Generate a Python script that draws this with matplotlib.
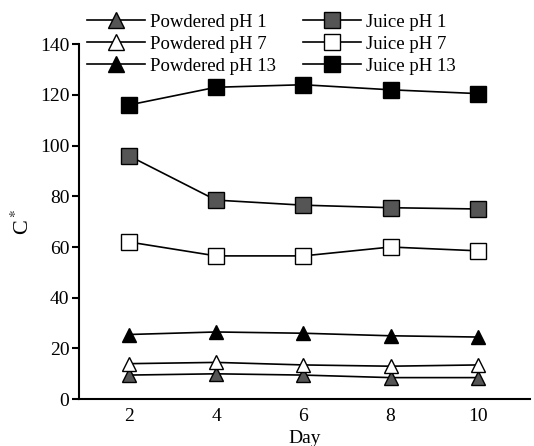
import matplotlib
matplotlib.use('Agg')
import matplotlib.pyplot as plt

plt.rcParams['font.family'] = ['Liberation Serif', 'DejaVu Serif']
plt.rcParams['mathtext.fontset'] = 'stix'

days = [2, 4, 6, 8, 10]
powdered_ph1 = [9.5, 10, 9.5, 8.5, 8.5]
powdered_ph7 = [14, 14.5, 13.5, 13, 13.5]
powdered_ph13 = [25.5, 26.5, 26, 25, 24.5]
juice_ph1 = [96, 78.5, 76.5, 75.5, 75]
juice_ph7 = [62, 56.5, 56.5, 60, 58.5]
juice_ph13 = [116, 123, 124, 122, 120.5]

fig = plt.figure(figsize=(5.34, 4.46), dpi=100)
ax = fig.add_axes([0.148, 0.105, 0.845, 0.796])

ms_tri = 10
ms_sq = 11
ax.plot(days, powdered_ph1, '-^', color='black', mfc='#555555', mec='black', ms=ms_tri, lw=1.2, label='Powdered pH 1')
ax.plot(days, powdered_ph7, '-^', color='black', mfc='white', mec='black', ms=ms_tri, lw=1.2, label='Powdered pH 7')
ax.plot(days, powdered_ph13, '-^', color='black', mfc='black', mec='black', ms=ms_tri, lw=1.2, label='Powdered pH 13')
ax.plot(days, juice_ph1, '-s', color='black', mfc='#555555', mec='black', ms=ms_sq, lw=1.2, label='Juice pH 1')
ax.plot(days, juice_ph7, '-s', color='black', mfc='white', mec='black', ms=ms_sq, lw=1.2, label='Juice pH 7')
ax.plot(days, juice_ph13, '-s', color='black', mfc='black', mec='black', ms=ms_sq, lw=1.2, label='Juice pH 13')

ax.set_xlim(0.86, 11.2)
ax.set_ylim(0, 140)
ax.set_xticks(days)
ax.set_yticks(range(0, 141, 20))
ax.spines['top'].set_visible(False)
ax.spines['right'].set_visible(False)
ax.spines['left'].set_linewidth(1.5)
ax.spines['bottom'].set_linewidth(1.5)
ax.tick_params(axis='x', length=0, labelsize=14, pad=6)
ax.tick_params(axis='y', direction='out', length=5, width=1.5, labelsize=14, pad=2)
ax.set_xlabel('Day', fontsize=14, labelpad=4)
ax.set_ylabel('C$^*$', fontsize=16, labelpad=4)

fig.legend(loc='upper left', bbox_to_anchor=(0.163, 0.969), ncol=2, frameon=False,
           fontsize=13.5, handlelength=3.1, columnspacing=1.4, labelspacing=0.25,
           handletextpad=0.28, borderpad=0, borderaxespad=0, markerscale=1.1)

fig.savefig('out.png', dpi=100)
